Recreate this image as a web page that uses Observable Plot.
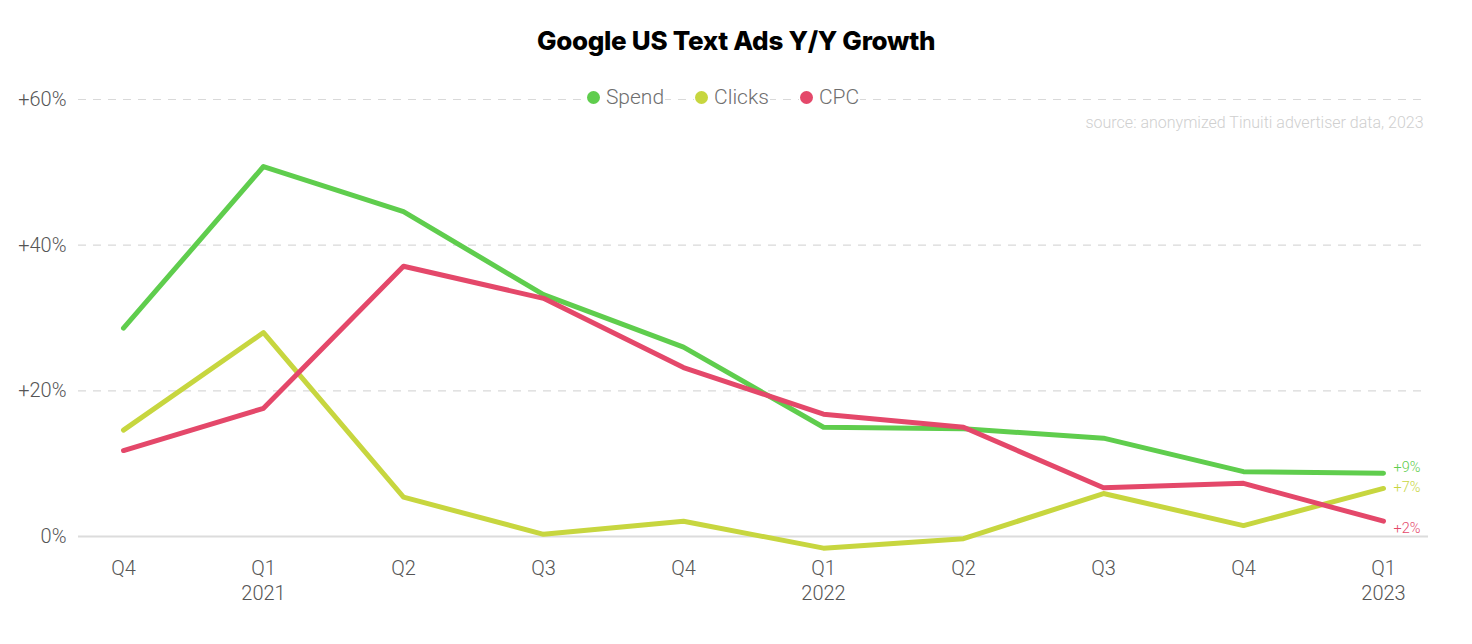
<!DOCTYPE html>
<html>
<head>
<meta charset="utf-8">
<script src="https://cdn.jsdelivr.net/npm/d3@7"></script>
<script src="https://cdn.jsdelivr.net/npm/@observablehq/plot@0.6"></script>
<style>
  html, body { margin: 0; padding: 0; background: #fff; }
  #wrap { position: relative; width: 1472px; height: 644px; overflow: hidden; }
  #title { position: absolute; left: 0; top: 0; width: 1472px; height: 64px; text-align: center;
    font-family: Inter, "Open Sans", sans-serif; font-weight: 800; font-size: 26px; line-height: 82px; color: #000; letter-spacing: -0.3px; }
  #chart { position: absolute; left: 0; top: 64px; }
  #chart text { font-weight: 300; }
  #legend { position: absolute; top: 85px; left: 0; width: 1472px; display: flex; justify-content: center; pointer-events: none; }
  #legend .inner { display: flex; gap: 29px; font-family: Roboto, sans-serif; font-weight: 300; font-size: 21px; color: #6e6e6e; margin-left: -26px; }
  #legend .item { display: flex; align-items: center; gap: 6px; background: #fff; padding: 0 1px; }
  #legend .dot { width: 13px; height: 13px; border-radius: 50%; display: inline-block; }
</style>
</head>
<body>
<div id="wrap">
  <div id="title">Google US Text Ads Y/Y Growth</div>
  <div id="chart"></div>
  <div id="legend"><div class="inner"></div></div>
</div>
<script>
const quarters = ["Q4 2020","Q1 2021","Q2 2021","Q3 2021","Q4 2021","Q1 2022","Q2 2022","Q3 2022","Q4 2022","Q1 2023"];
const tickLabels = ["Q4","Q1\n2021","Q2","Q3","Q4","Q1\n2022","Q2","Q3","Q4","Q1\n2023"];
const seriesNames = ["Spend","Clicks","CPC"];
const seriesColors = ["#5fcd4d","#c7d63f","#e4486a"];
const spend  = [28.6, 50.8, 44.6, 33.2, 26.0, 15.0, 14.8, 13.5, 8.9, 8.7];
const clicks = [14.6, 28.0, 5.4, 0.3, 2.1, -1.6, -0.3, 5.9, 1.5, 6.6];
const cpc    = [11.8, 17.6, 37.1, 32.7, 23.2, 16.8, 15.0, 6.7, 7.3, 2.1];
const yTicks = [0, 20, 40, 60];
const sourceText = "source: anonymized Tinuiti advertiser data, 2023";

const valuesBySeries = {Spend: spend, Clicks: clicks, CPC: cpc};
const rows = seriesNames.flatMap(s => quarters.map((q, i) => ({series: s, q, v: valuesBySeries[s][i]})));
const last = quarters[quarters.length - 1];
const endRows = rows.filter(d => d.q === last);
const fmt = v => v === 0 ? "0%" : (v > 0 ? "+" : "") + Math.round(v) + "%";
const labelDy = {Spend: -6, Clicks: -1, CPC: 7};

const chart = Plot.plot({
  width: 1472,
  height: 580,
  marginLeft: 78,
  marginRight: 44,
  marginTop: 35,
  marginBottom: 108,
  style: {fontFamily: "Roboto, sans-serif", background: "#fff"},
  x: {type: "point", domain: quarters, padding: 0.294, label: null},
  y: {domain: [0, 60], label: null},
  color: {domain: seriesNames, range: seriesColors},
  marks: [
    Plot.gridY(yTicks.filter(t => t > 0), {stroke: "#d9d9d9", strokeOpacity: 1, strokeDasharray: "8,7", strokeWidth: 1.2}),
    Plot.ruleY([0], {stroke: "#dcdcdc", strokeWidth: 2}),
    Plot.axisY(yTicks, {tickSize: 0, tickPadding: 12, tickFormat: fmt, fontSize: 20, fill: "#555", label: null}),
    Plot.axisX(quarters, {tickSize: 0, tickPadding: 21, tickFormat: (d) => tickLabels[quarters.indexOf(d)], fontSize: 20, fill: "#555", lineHeight: 1.25, label: null}),
    Plot.line(rows, {x: "q", y: "v", z: "series", stroke: "series", strokeWidth: 5, strokeLinecap: "round", strokeLinejoin: "round"}),
    ...seriesNames.map(s => Plot.text(endRows.filter(d => d.series === s), {
      x: "q", y: "v", text: d => fmt(d.v), fill: "series", textAnchor: "start", dx: 10, dy: labelDy[s], fontSize: 14.5
    })),
    Plot.text([sourceText], {frameAnchor: "top-right", text: d => d, dx: -5, dy: 17, fill: "#cfcfcf", fontSize: 16})
  ]
});
document.getElementById("chart").appendChild(chart);

const inner = document.querySelector("#legend .inner");
seriesNames.forEach((s, i) => {
  const it = document.createElement("div");
  it.className = "item";
  it.innerHTML = `<span class="dot" style="background:${seriesColors[i]}"></span><span>${s}</span>`;
  inner.appendChild(it);
});
</script>
</body>
</html>
